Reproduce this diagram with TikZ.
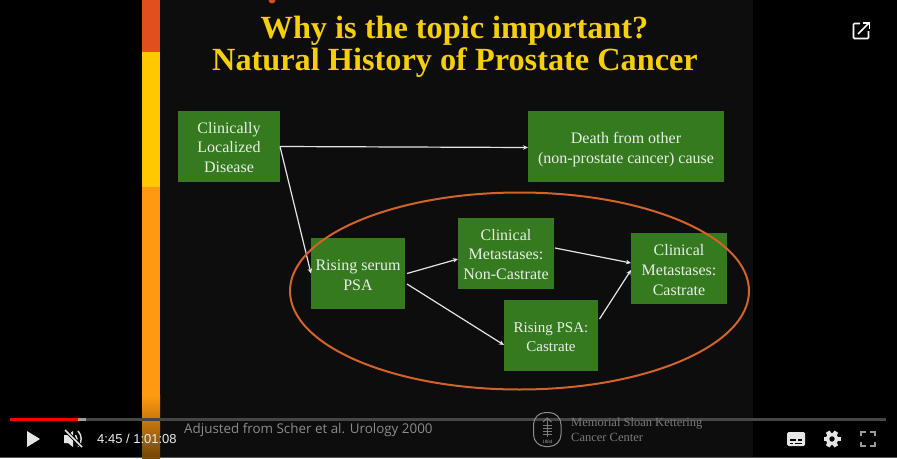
\documentclass[tikz,border=0pt]{standalone}
\usepackage{fontspec}
\setmainfont{Liberation Serif}
\newfontfamily\creditfont{Open Sans}
\newfontfamily\playerfont{Liberation Sans}
\usetikzlibrary{arrows.meta, shapes.geometric, positioning}
\definecolor{slidebg}{HTML}{0D0D0D}
\definecolor{boxgreen}{HTML}{357A1F}
\definecolor{titleyellow}{HTML}{F5CF0A}
\definecolor{ringorange}{HTML}{D2642A}
\definecolor{boxtext}{HTML}{E9EFE6}
\definecolor{creditgrey}{HTML}{8C8C8C}
\definecolor{barred}{HTML}{E0501F}
\definecolor{baryellow}{HTML}{FFC800}
\definecolor{barorange}{HTML}{FF9A10}
\newcommand{\linedrop}[1]{\rule{0pt}{#1pt}}
\tikzset{
  stagebox/.style={
    rectangle, draw=none, fill=boxgreen, inner sep=0pt, outer sep=0pt,
    minimum height=71pt, align=center, text=boxtext,
    font=\fontsize{16}{19.6}\selectfont
  },
  arrow/.style={-{Stealth[length=5pt,width=4.5pt]}, line width=1.2pt, draw=white!90!black},
  ring/.style={
    ellipse, draw=ringorange, line width=2pt, inner sep=0pt,
    minimum width=459pt, minimum height=197pt
  },
  titleline/.style={
    text=titleyellow, inner sep=0pt, anchor=base,
    font=\fontsize{32.3}{38}\selectfont\bfseries
  },
  credit/.style={
    text=creditgrey, inner sep=0pt, anchor=west,
    font=\fontsize{13.4}{16}\selectfont\creditfont
  },
  logotext/.style={
    text=creditgrey!115, inner sep=0pt, anchor=west,
    font=\fontsize{12.5}{15}\selectfont
  },
  playericon/.style={fill=white!90!black, draw=none}
}

\begin{document}
\begin{tikzpicture}[x=1pt, y=-1pt]
  \useasboundingbox (0,0) rectangle (897,458);
  \fill[black] (0,0) rectangle (897,458);
  \fill[slidebg] (142,0) rectangle (753,458);
  \fill[barred] (142,0) rectangle (160,52);
  \fill[baryellow] (142,52) rectangle (160,187);
  \fill[barorange] (142,187) rectangle (160,395);
  \shade[top color=barorange, bottom color=barorange!45!black] (142,395) rectangle (160,458);
  \fill[red!40!brown] (272,0) circle (3.5);

  \node[titleline] (titleA) at (454.5,38.5) {Why is the topic important?};
  \node[titleline] (titleB) at (455,70.7) {Natural History of Prostate Cancer};

  \node[stagebox, minimum width=102pt] (local) at (229,146.5)
    {\linedrop{13}Clinically\\Localized\\Disease};
  \node[stagebox, minimum width=196pt, right=248pt of local] (death)
    {\linedrop{17}Death from other\\(non-prostate cancer) cause};
  \node[stagebox, minimum width=94pt, below right=56pt and 31pt of local] (psa)
    {\linedrop{14}Rising serum\\PSA};
  \node[stagebox, minimum width=96pt, right=53pt of psa, yshift=20.5pt] (nonc)
    {\linedrop{14}Clinical\\Metastases:\\Non-Castrate};
  \node[stagebox, minimum width=94pt, right=99pt of psa, yshift=-61.5pt,
    font=\fontsize{15}{19.6}\selectfont] (risingc)
    {\linedrop{14}Rising PSA:\\Castrate};
  \node[stagebox, minimum width=96pt, right=77pt of nonc, yshift=-15.5pt] (castrate)
    {\linedrop{14}Clinical\\Metastases:\\Castrate};

  \draw[arrow] (local.east) -- ([yshift=-1pt]death.west);
  \draw[arrow] (local.east) -- (psa.west);
  \draw[arrow] ([xshift=2pt]psa.east) -- ([yshift=-6pt]nonc.west);
  \draw[arrow] ([xshift=2pt,yshift=-10.5pt]psa.east) -- ([yshift=-10pt]risingc.west);
  \draw[arrow] ([xshift=1pt,yshift=5pt]nonc.east) -- ([yshift=5.5pt]castrate.west);
  \draw[arrow] ([xshift=1.5pt,yshift=16pt]risingc.east) -- ([yshift=-1.5pt]castrate.west);

  \node[ring] (psaring) at (519.5,291) {};

  % player bar runs under the logo
  \fill[gray!55!black] (10,418) rectangle (886,421);
  \fill[gray!75] (78,418) rectangle (86,421);
  \fill[red] (10,418) rectangle (78,421);
  \fill[black!66] (0,457) rectangle (897,458);

  \node[credit] (source) at (184,430) {Adjusted from Scher et al. Urology 2000};
  \node[logotext] (mskA) at (571,424) {Memorial Sloan Kettering};
  \node[logotext] (mskB) at (571,437) {Cancer Center};
  \draw[creditgrey, line width=1pt, rounded corners=12pt] (533.5,412.5) rectangle (561,446.5);
  \draw[creditgrey!115, line width=1.1pt] (547.2,418) -- (547.2,437);
  \draw[creditgrey!115, line width=1pt] (543,422) -- (547.2,418) -- (551.5,422);
  \foreach \ty in {425,428,431,434}
    \draw[creditgrey!115, line width=0.9pt] (542.5,\ty) -- (552,\ty);
  \node[text=creditgrey!80, inner sep=0pt, font=\fontsize{5}{6}\selectfont] (mskyear) at (547.3,442) {1884};

  \fill[playericon] (27,431) -- (40,439) -- (27,447) -- cycle;
  \fill[playericon] (64,435) -- (68,435) -- (73,431) -- (73,447) -- (68,443) -- (64,443) -- cycle;
  \draw[white!90!black, line width=1.4pt] (75.5,435) arc[start angle=-40, end angle=40, radius=6];
  \draw[white!90!black, line width=1.4pt] (78,431) arc[start angle=-45, end angle=45, radius=11];
  \draw[black, line width=3.4pt] (65,430) -- (82,447);
  \draw[white!90!black, line width=1.6pt] (65,430) -- (82,447);
  \node[text=white!92!black, inner sep=0pt, anchor=west,
    font=\fontsize{13}{15}\selectfont\playerfont] (time) at (97,438.5) {4:45 / 1:01:08};

  \fill[playericon, rounded corners=1.5pt] (787,432) rectangle (805,446);
  \fill[black] (790,439) rectangle (796,441);
  \fill[black] (798,439) rectangle (802,441);
  \fill[black] (790,442.5) rectangle (793,444);
  \fill[black] (795,442.5) rectangle (802,444);
  \foreach \ga in {30,90,...,330}
    \fill[playericon, rotate around={\ga:(832,439)}] (829.8,430.5) rectangle (834.2,435);
  \fill[playericon] (832,439) circle (6.2);
  \fill[black] (832,439) circle (2.7);
  \draw[gray!80!white, line width=1.7pt]
    (861,436) -- (861,432) -- (866,432)
    (870,432) -- (875,432) -- (875,436)
    (875,442) -- (875,446) -- (870,446)
    (866,446) -- (861,446) -- (861,442);
  \draw[white, line width=1.7pt, rounded corners=1pt]
    (860,23.5) -- (853.5,23.5) -- (853.5,38.5) -- (868.5,38.5) -- (868.5,31);
  \draw[white, line width=1.7pt] (858,34) -- (869,23);
  \draw[white, line width=1.7pt] (863,23) -- (869.5,23) -- (869.5,29);
\end{tikzpicture}
\end{document}
